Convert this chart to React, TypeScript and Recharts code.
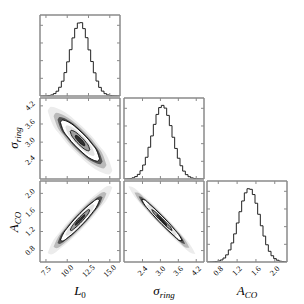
import React from "react";
import { ComposedChart, Area, Line, XAxis, YAxis } from "recharts";

// axis ranges shared by every panel of a parameter
const L0_RANGE = [6.8, 16.2];
const SIG_RANGE = [1.78, 4.46];
const ACO_RANGE = [0.56, 2.26];

const L0_TICKS = [7.5, 10, 12.5, 15];
const SIG_TICKS = [2.4, 3.0, 3.6, 4.2];
const ACO_TICKS = [0.8, 1.2, 1.6, 2.0];
const HIST_TICKS = [24, 48, 72, 96];
const HIST_MAX = 110;

// 1D marginal histograms, 30 bins across each range (relative counts)
const L0_COUNTS = [0.0, 0.1, 0.3, 0.7, 1.5, 3.3, 6.5, 11.9, 20.1, 31.8, 46.4, 62.9, 78.9, 91.8, 99.1, 99.6, 91.5, 79.2, 62.6, 46.8, 31.5, 20.3, 11.7, 6.6, 3.2, 1.5, 0.7, 0.3, 0.1, 0.0];
const SIG_COUNTS = [0.1, 0.3, 0.7, 1.6, 3.3, 6.3, 11.3, 19.0, 29.5, 43.1, 58.5, 74.2, 87.7, 97.0, 100, 96.3, 86.4, 72.5, 56.7, 41.5, 28.2, 18.0, 10.7, 5.9, 3.1, 1.5, 0.7, 0.3, 0.1, 0.0];
const ACO_COUNTS = [0.0, 0.1, 0.3, 0.6, 1.4, 2.8, 5.4, 9.7, 16.4, 25.9, 38.2, 53.0, 68.3, 82.9, 93.9, 99.5, 98.7, 91.6, 79.8, 64.8, 49.2, 35.2, 23.4, 14.5, 8.5, 4.6, 2.4, 1.1, 0.5, 0.2];

// 2D density levels, outer -> inner, each point is [x, low, high]
const L0_SIG_LEVELS = [
  [[7.70, 4.04, 4.04], [8.09, 3.71, 4.17], [9.22, 3.22, 4.07], [11.5, 2.52, 3.58], [13.78, 2.03, 2.88], [14.92, 1.93, 2.39], [15.30, 2.06, 2.06]],
  [[8.40, 3.86, 3.86], [8.71, 3.59, 3.97], [9.64, 3.19, 3.88], [11.5, 2.61, 3.49], [13.36, 2.22, 2.92], [14.30, 2.13, 2.51], [14.61, 2.24, 2.24]],
  [[8.86, 3.74, 3.74], [9.12, 3.51, 3.83], [9.91, 3.17, 3.76], [11.5, 2.68, 3.42], [13.09, 2.34, 2.93], [13.88, 2.27, 2.59], [14.15, 2.36, 2.36]],
  [[9.20, 3.65, 3.65], [9.43, 3.45, 3.73], [10.12, 3.15, 3.67], [11.5, 2.73, 3.37], [12.88, 2.43, 2.95], [13.57, 2.37, 2.65], [13.80, 2.45, 2.45]],
  [[9.78, 3.50, 3.50], [9.95, 3.35, 3.56], [10.47, 3.13, 3.51], [11.5, 2.81, 3.29], [12.54, 2.59, 2.98], [13.05, 2.54, 2.75], [13.23, 2.60, 2.60]],
  [[10.35, 3.35, 3.35], [10.47, 3.25, 3.39], [10.81, 3.10, 3.36], [11.5, 2.89, 3.21], [12.19, 2.74, 3.00], [12.54, 2.71, 2.85], [12.65, 2.75, 2.75]],
  [[10.93, 3.20, 3.20], [10.98, 3.15, 3.22], [11.16, 3.08, 3.21], [11.5, 2.97, 3.13], [11.85, 2.90, 3.03], [12.02, 2.88, 2.95], [12.08, 2.90, 2.90]],
];

const L0_ACO_LEVELS = [
  [[7.70, 0.75, 0.75], [8.09, 0.72, 0.92], [9.22, 0.85, 1.21], [11.5, 1.21, 1.67], [13.78, 1.67, 2.04], [14.92, 1.96, 2.16], [15.30, 2.13, 2.13]],
  [[8.40, 0.88, 0.88], [8.71, 0.85, 1.01], [9.64, 0.95, 1.25], [11.5, 1.25, 1.63], [13.36, 1.63, 1.93], [14.30, 1.87, 2.03], [14.61, 2.00, 2.00]],
  [[8.86, 0.96, 0.96], [9.12, 0.94, 1.08], [9.91, 1.03, 1.28], [11.5, 1.28, 1.60], [13.09, 1.60, 1.85], [13.88, 1.80, 1.94], [14.15, 1.92, 1.92]],
  [[9.20, 1.02, 1.02], [9.43, 1.00, 1.12], [10.12, 1.08, 1.30], [11.5, 1.30, 1.58], [12.88, 1.58, 1.80], [13.57, 1.76, 1.88], [13.80, 1.86, 1.86]],
  [[9.78, 1.13, 1.13], [9.95, 1.11, 1.20], [10.47, 1.17, 1.33], [11.5, 1.34, 1.54], [12.54, 1.55, 1.71], [13.05, 1.68, 1.77], [13.23, 1.75, 1.75]],
  [[10.35, 1.23, 1.23], [10.47, 1.22, 1.28], [10.81, 1.26, 1.37], [11.5, 1.37, 1.51], [12.19, 1.51, 1.62], [12.54, 1.60, 1.66], [12.65, 1.65, 1.65]],
  [[10.93, 1.34, 1.34], [10.98, 1.33, 1.36], [11.16, 1.35, 1.41], [11.5, 1.41, 1.47], [11.85, 1.48, 1.53], [12.02, 1.52, 1.55], [12.08, 1.55, 1.55]],
];

const SIG_ACO_LEVELS = [
  [[1.93, 2.15, 2.15], [2.04, 2.02, 2.14], [2.38, 1.75, 1.98], [3.05, 1.30, 1.59], [3.72, 0.90, 1.13], [4.06, 0.74, 0.86], [4.17, 0.73, 0.73]],
  [[2.13, 2.02, 2.02], [2.22, 1.91, 2.02], [2.50, 1.69, 1.88], [3.05, 1.32, 1.56], [3.60, 1.00, 1.19], [3.88, 0.86, 0.97], [3.97, 0.86, 0.86]],
  [[2.27, 1.94, 1.94], [2.35, 1.84, 1.93], [2.58, 1.66, 1.82], [3.05, 1.34, 1.54], [3.52, 1.06, 1.22], [3.75, 0.95, 1.04], [3.83, 0.94, 0.94]],
  [[2.37, 1.87, 1.87], [2.44, 1.79, 1.87], [2.64, 1.63, 1.77], [3.05, 1.35, 1.53], [3.46, 1.11, 1.25], [3.66, 1.01, 1.09], [3.73, 1.01, 1.01]],
  [[2.54, 1.76, 1.76], [2.59, 1.70, 1.76], [2.74, 1.58, 1.69], [3.05, 1.37, 1.51], [3.36, 1.19, 1.30], [3.51, 1.12, 1.18], [3.56, 1.12, 1.12]],
  [[2.71, 1.66, 1.66], [2.74, 1.62, 1.65], [2.85, 1.53, 1.60], [3.05, 1.40, 1.48], [3.25, 1.28, 1.35], [3.36, 1.23, 1.27], [3.39, 1.22, 1.22]],
  [[2.88, 1.55, 1.55], [2.90, 1.53, 1.55], [2.95, 1.49, 1.52], [3.05, 1.42, 1.46], [3.15, 1.36, 1.39], [3.20, 1.33, 1.35], [3.22, 1.33, 1.33]],
];

// styling per level (outer -> inner)
const LEVEL_FILLS = ["#ececec", "#bababa", "#555555", "#ffffff", "#e3e3e3", "#9d9d9d", "#303030"];
const LEVEL_STROKES = ["none", "none", "none", "#000000", "none", "#111111", "#111111"];

const FRAME = "#8a8a8a";
const SERIF = "'Liberation Serif', 'DejaVu Serif', serif";
const COLS = [40, 124, 207];
const ROWS = [15, 98, 181];
const PW = 80;
const PH = 81;

function histRows(counts: number[], range: number[]) {
  const w = (range[1] - range[0]) / counts.length;
  const rows = counts.map((c, i) => ({ x: range[0] + i * w, y: c }));
  rows.push({ x: range[1], y: counts[counts.length - 1] });
  return rows;
}

function levelRows(levels: number[][][]) {
  const byX = new Map<number, any>();
  levels.forEach((pts, li) => {
    pts.forEach(([x, lo, hi]) => {
      if (!byX.has(x)) byX.set(x, { x });
      byX.get(x)[`b${li}`] = [lo, hi];
    });
  });
  const rows = Array.from(byX.values()).sort((a, b) => a.x - b.x);
  rows.forEach((r) => {
    levels.forEach((_, li) => {
      if (!r[`b${li}`]) r[`b${li}`] = [null, null];
    });
  });
  return rows;
}

function TickLabel(props: any) {
  const { x, y, payload } = props;
  return (
    <text x={x} y={y} transform={`rotate(-45 ${x} ${y})`} textAnchor="middle" dominantBaseline="central" fontSize={8} fontFamily={SERIF} fill="#000">
      {Number(payload.value).toFixed(1)}
    </text>
  );
}

function NoTick() {
  return <g />;
}

function Panel({ col, row, xDomain, yDomain, xTicks, yTicks, showX, showY, data, children }: any) {
  // axes take 1px each, so margins are one less than the space needed
  const ml = showY ? 29 : 1;
  const mb = showX ? 29 : 1;
  const mt = 1;
  const mr = 1;
  const axisLine = { stroke: FRAME, strokeWidth: 1.5 };
  const tickLine = { stroke: FRAME, strokeWidth: 1 };
  return (
    <div style={{ position: "absolute", left: COLS[col] - ml - 1, top: ROWS[row] - mt - 1 }}>
      <ComposedChart width={PW + ml + mr + 2} height={PH + mt + mb + 2} data={data} margin={{ top: mt, right: mr, bottom: mb, left: ml }}>
        <XAxis type="number" dataKey="x" domain={xDomain} allowDataOverflow ticks={xTicks} interval={0} height={1} tickSize={-3} tickMargin={12} axisLine={axisLine} tickLine={tickLine} tick={showX ? <TickLabel /> : <NoTick />} />
        <XAxis xAxisId="top" orientation="top" type="number" dataKey="x" domain={xDomain} allowDataOverflow ticks={xTicks} interval={0} height={1} tickSize={-3} axisLine={axisLine} tickLine={tickLine} tick={<NoTick />} />
        <YAxis type="number" domain={yDomain} allowDataOverflow ticks={yTicks} interval={0} width={1} tickSize={-3} tickMargin={13} axisLine={axisLine} tickLine={tickLine} tick={showY ? <TickLabel /> : <NoTick />} />
        <YAxis yAxisId="right" orientation="right" type="number" domain={yDomain} allowDataOverflow ticks={yTicks} interval={0} width={1} tickSize={-3} axisLine={axisLine} tickLine={tickLine} tick={<NoTick />} />
        {children}
      </ComposedChart>
    </div>
  );
}

function Hist({ col, row, counts, range, ticks, showX }: any) {
  return (
    <Panel col={col} row={row} xDomain={range} yDomain={[0, HIST_MAX]} xTicks={ticks} yTicks={HIST_TICKS} showX={showX} showY={false} data={histRows(counts, range)}>
      <Line dataKey="y" type="stepAfter" stroke="#222222" strokeWidth={1} dot={false} activeDot={false} isAnimationActive={false} />
    </Panel>
  );
}

function Density({ col, row, levels, xRange, yRange, xTicks, yTicks, showX, showY }: any) {
  return (
    <Panel col={col} row={row} xDomain={xRange} yDomain={yRange} xTicks={xTicks} yTicks={yTicks} showX={showX} showY={showY} data={levelRows(levels)}>
      {levels.map((_: any, i: number) => (
        <Area
          key={i}
          dataKey={`b${i}`}
          type="monotone"
          fill={LEVEL_FILLS[i]}
          fillOpacity={1}
          stroke={LEVEL_STROKES[i]}
          strokeWidth={0.9}
          connectNulls
          dot={false}
          activeDot={false}
          isAnimationActive={false}
        />
      ))}
    </Panel>
  );
}

const titleStyle: React.CSSProperties = {
  position: "absolute",
  fontFamily: SERIF,
  fontStyle: "italic",
  fontSize: 13,
  whiteSpace: "nowrap",
  lineHeight: 1,
  color: "#000",
};
const subStyle: React.CSSProperties = { fontSize: 9, position: "relative", top: 3 };

export default function App() {
  return (
    <div style={{ position: "absolute", left: 0, top: 0, width: 304, height: 304, background: "#fff", overflow: "hidden" }}>
      <Hist col={0} row={0} counts={L0_COUNTS} range={L0_RANGE} ticks={L0_TICKS} showX={false} />
      <Density col={0} row={1} levels={L0_SIG_LEVELS} xRange={L0_RANGE} yRange={SIG_RANGE} xTicks={L0_TICKS} yTicks={SIG_TICKS} showX={false} showY />
      <Hist col={1} row={1} counts={SIG_COUNTS} range={SIG_RANGE} ticks={SIG_TICKS} showX={false} />
      <Density col={0} row={2} levels={L0_ACO_LEVELS} xRange={L0_RANGE} yRange={ACO_RANGE} xTicks={L0_TICKS} yTicks={ACO_TICKS} showX showY />
      <Density col={1} row={2} levels={SIG_ACO_LEVELS} xRange={SIG_RANGE} yRange={ACO_RANGE} xTicks={SIG_TICKS} yTicks={ACO_TICKS} showX showY={false} />
      <Hist col={2} row={2} counts={ACO_COUNTS} range={ACO_RANGE} ticks={ACO_TICKS} showX />

      <div style={{ ...titleStyle, left: 80, top: 290, transform: "translate(-50%, -50%)" }}>
        L<span style={{ ...subStyle, fontStyle: "normal" }}>0</span>
      </div>
      <div style={{ ...titleStyle, left: 164, top: 290, transform: "translate(-50%, -50%)" }}>
        σ<span style={subStyle}>ring</span>
      </div>
      <div style={{ ...titleStyle, left: 247, top: 290, transform: "translate(-50%, -50%)" }}>
        A<span style={subStyle}>CO</span>
      </div>
      <div style={{ ...titleStyle, left: 13, top: 138, transform: "translate(-50%, -50%) rotate(-90deg)" }}>
        σ<span style={subStyle}>ring</span>
      </div>
      <div style={{ ...titleStyle, left: 13, top: 222, transform: "translate(-50%, -50%) rotate(-90deg)" }}>
        A<span style={subStyle}>CO</span>
      </div>
    </div>
  );
}
